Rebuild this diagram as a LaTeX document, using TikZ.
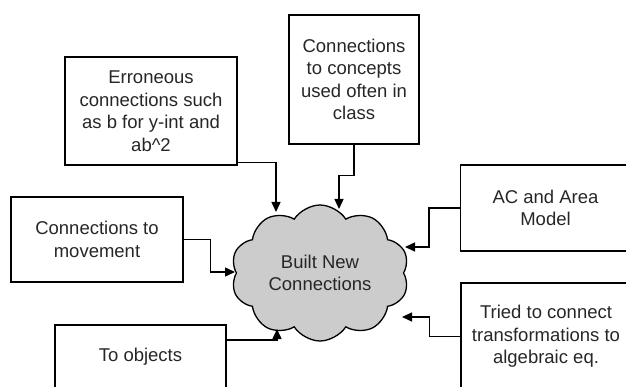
\documentclass[tikz,border=0pt]{standalone}
\usepackage{fontspec}
\setmainfont{Liberation Sans}
\usetikzlibrary{ % tikz packages
    positioning,shapes.symbols,
    arrows.meta
}
\tikzset{every textbox/.style={
    draw=black,
    line width=1.3pt,
    inner sep=0pt,
    align=center,
    text=black!85,
    font=\fontsize{18.5pt}{22.5pt}\selectfont
}}
\tikzset{>={Triangle[length=10pt,width=9pt]}}
\tikzset{link/.style={->,line width=1.4pt}}

\begin{document}
\begin{tikzpicture}[on grid]
        \useasboundingbox (0,0) rectangle (626pt,-387pt);

        \node[cloud, cloud puffs=10, cloud puff arc=115, cloud ignores aspect,
              draw=black, line width=1.3pt, fill=gray!40, align=center,
              minimum width=178pt, minimum height=136pt, text=black!85,
              font=\fontsize{18.5pt}{22.5pt}\selectfont]
            (cloud) at (320pt,-273pt) {Built New\\Connections};

        \node[every textbox, minimum width=172pt, minimum height=108pt]
            (err) [above left=162pt and 169pt of cloud]
            {Erroneous\\connections such\\as b for y-int and\\ab\textasciicircum 2};
        \node[every textbox, minimum width=130pt, minimum height=129pt]
            (concepts) [above right=193.5pt and 34pt of cloud]
            {Connections\\to concepts\\used often in\\class};
        \node[every textbox, minimum width=172pt, minimum height=85pt]
            (movement) [above left=33.5pt and 223pt of cloud]
            {Connections to\\movement};
        \node[every textbox, minimum width=171pt, minimum height=64pt]
            (objects) [below left=84pt and 179.5pt of cloud]
            {To objects};
        \node[every textbox, minimum width=170pt, minimum height=86pt]
            (ac) [above right=65pt and 225.5pt of cloud]
            {AC and Area\\Model};
        \node[every textbox, minimum width=170pt, minimum height=107pt]
            (tried) [below right=63.5pt and 226pt of cloud]
            {Tried to connect\\transformations to\\algebraic eq.};

        % arrow tips on the cloud
        \coordinate (tipErr) at ([shift={(-44pt,61pt)}]cloud.center);
        \coordinate (tipCon) at ([shift={(19pt,64pt)}]cloud.center);
        \coordinate (tipMov) at ([shift={(-85pt,1pt)}]cloud.center);
        \coordinate (tipObj) at ([shift={(-43pt,-56pt)}]cloud.center);
        \coordinate (tipAC) at ([shift={(85pt,26pt)}]cloud.center);
        \coordinate (tipTri) at ([shift={(82pt,-44pt)}]cloud.center);

        \draw[link] ([yshift=3pt]err.south east) -| (tipErr);
        \draw[link] (concepts.south) -- ++(0,-31pt) -| (tipCon);
        \draw[link] (movement.east) -- ++(27pt,0) |- (tipMov);
        \draw[link] ([yshift=17pt]objects.east) -| (tipObj);
        \draw[link] (ac.west) -- ++(-31pt,0) |- (tipAC);
        \draw[link] (tried.west) -- ++(-31pt,0) |- (tipTri);
    \end{tikzpicture}
\end{document}
